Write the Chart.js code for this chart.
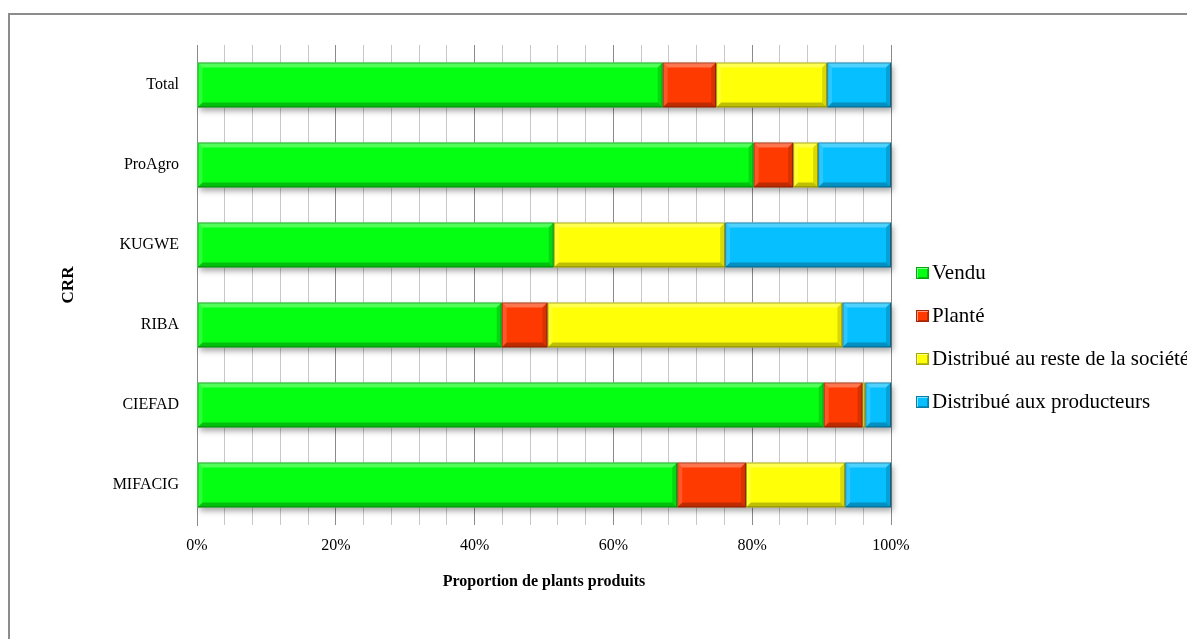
<!DOCTYPE html>
<html>
<head>
<meta charset="utf-8">
<script src="https://cdn.jsdelivr.net/npm/chart.js@4.4.1/dist/chart.umd.min.js"></script>
<style>
  body { margin: 0; width: 1187px; height: 639px; overflow: hidden; background: #fff; position: relative; font-family: "Liberation Serif", "Times New Roman", serif; }
  #frame { position: absolute; left: 8px; top: 13px; width: 1400px; height: 800px; border: 2px solid #8c8c8c; box-sizing: border-box; }
  #chart { position: absolute; left: 0; top: 0; }
  #legend { position: absolute; left: 916px; top: 261px; white-space: nowrap; }
  .item { height: 43px; display: flex; align-items: flex-start; font-size: 21px; line-height: 22px; color: #000; }
  .sw { width: 13px; height: 12px; margin: 6px 3px 0 0; box-sizing: border-box; border: 1px solid rgba(0,0,0,0.35); box-shadow: inset 1px 1px 0 rgba(255,255,255,0.5), inset -1px -1px 0 rgba(0,0,0,0.25); }
</style>
</head>
<body>
<div id="frame"></div>
<canvas id="chart" width="1187" height="639"></canvas>
<div id="legend"></div>
<script>
var categories = ['Total', 'ProAgro', 'KUGWE', 'RIBA', 'CIEFAD', 'MIFACIG'];
var vendu = [67.1, 80.2, 51.4, 43.9, 90.3, 69.2];
var plante = [7.7, 5.7, 0, 6.6, 5.6, 9.9];
var resteSociete = [16.0, 3.6, 24.7, 42.5, 0.4, 14.3];
var producteurs = [9.2, 10.5, 23.9, 7.0, 3.7, 6.6];
var xTickLabels = [0, 20, 40, 60, 80, 100];

var seriesNames = ['Vendu', 'Planté', 'Distribué au reste de la société', 'Distribué aux producteurs'];
var seriesColors = ['#05ff12', '#ff3a00', '#ffff08', '#05bfff'];
var serif = '"Liberation Serif", "Times New Roman", serif';

// legend built from the series
var legend = document.getElementById('legend');
seriesNames.forEach(function(name, i) {
    var row = document.createElement('div');
    row.className = 'item';
    var sw = document.createElement('span');
    sw.className = 'sw';
    sw.style.background = seriesColors[i];
    row.appendChild(sw);
    row.appendChild(document.createTextNode(name));
    legend.appendChild(row);
});

// soft shadow under each bar + bevel on every segment
var bevelPlugin = {
    id: 'bevel',
    beforeDatasetsDraw: function(chart) {
        var ctx = chart.ctx;
        var first = chart.getDatasetMeta(0).data;
        var last = chart.getDatasetMeta(chart.data.datasets.length - 1).data;
        ctx.save();
        ctx.shadowColor = 'rgba(0,0,0,0.35)';
        ctx.shadowBlur = 6;
        ctx.shadowOffsetX = 2;
        ctx.shadowOffsetY = 3;
        ctx.fillStyle = '#fff';
        first.forEach(function(el, i) {
            var a = el.getProps(['base', 'y', 'height'], true);
            var b = last[i].getProps(['x'], true);
            ctx.fillRect(a.base, a.y - a.height / 2, b.x - a.base, a.height);
        });
        ctx.restore();
    },
    afterDatasetsDraw: function(chart) {
        var ctx = chart.ctx;
        chart.data.datasets.forEach(function(ds, di) {
            chart.getDatasetMeta(di).data.forEach(function(el) {
                var p = el.getProps(['x', 'y', 'base', 'height'], true);
                var x1 = Math.min(p.base, p.x), x2 = Math.max(p.base, p.x);
                var y1 = p.y - p.height / 2, y2 = p.y + p.height / 2;
                var w = x2 - x1;
                if (w < 0.5) return;
                var bv = Math.min(5, w / 2);
                ctx.save();
                ctx.fillStyle = 'rgba(255,255,255,0.30)';
                ctx.beginPath();
                ctx.moveTo(x1, y1); ctx.lineTo(x2, y1); ctx.lineTo(x2 - bv, y1 + bv); ctx.lineTo(x1 + bv, y1 + bv);
                ctx.closePath(); ctx.fill();
                ctx.fillStyle = 'rgba(255,255,255,0.15)';
                ctx.beginPath();
                ctx.moveTo(x1, y1); ctx.lineTo(x1 + bv, y1 + bv); ctx.lineTo(x1 + bv, y2 - bv); ctx.lineTo(x1, y2);
                ctx.closePath(); ctx.fill();
                ctx.fillStyle = 'rgba(0,0,0,0.15)';
                ctx.beginPath();
                ctx.moveTo(x2, y1); ctx.lineTo(x2, y2); ctx.lineTo(x2 - bv, y2 - bv); ctx.lineTo(x2 - bv, y1 + bv);
                ctx.closePath(); ctx.fill();
                ctx.fillStyle = 'rgba(0,0,0,0.25)';
                ctx.beginPath();
                ctx.moveTo(x1, y2); ctx.lineTo(x2, y2); ctx.lineTo(x2 - bv, y2 - bv); ctx.lineTo(x1 + bv, y2 - bv);
                ctx.closePath(); ctx.fill();
                ctx.strokeStyle = 'rgba(0,0,0,0.35)';
                ctx.lineWidth = 1;
                ctx.strokeRect(x1 + 0.5, y1 + 0.5, w - 1, p.height - 1);
                ctx.restore();
            });
        });
    }
};

var ctx = document.getElementById('chart').getContext('2d');

var chart = new Chart(ctx, {
    type: 'bar',
    data: {
        labels: categories,
        datasets: [vendu, plante, resteSociete, producteurs].map(function(values, i) {
            return {
                label: seriesNames[i],
                data: values,
                backgroundColor: seriesColors[i],
                borderWidth: 0,
                barPercentage: 0.5625,
                categoryPercentage: 1
            };
        })
    },
    options: {
        indexAxis: 'y',
        responsive: false,
        devicePixelRatio: 1,
        animation: false,
        layout: {
            padding: { left: 54, right: 296, top: 45, bottom: 44 }
        },
        plugins: {
            legend: { display: false },
            tooltip: { enabled: false }
        },
        scales: {
            x: {
                stacked: true,
                min: 0,
                max: 100,
                afterFit: function(scale) { scale.height = 70; },
                ticks: {
                    stepSize: 4,
                    autoSkip: false,
                    maxRotation: 0,
                    padding: 11,
                    color: '#000',
                    font: { family: serif, size: 16 },
                    callback: function(v) {
                        return xTickLabels.indexOf(v) >= 0 ? v + '%' : '';
                    }
                },
                grid: {
                    drawTicks: false,
                    lineWidth: 1,
                    color: function(c) {
                        return c.tick && c.tick.value % 20 === 0 ? '#8a8a8a' : '#c8c8c8';
                    }
                },
                border: { display: false },
                title: {
                    display: true,
                    text: 'Proportion de plants produits',
                    color: '#000',
                    font: { family: serif, size: 16, weight: 'bold' }
                }
            },
            y: {
                stacked: true,
                afterFit: function(scale) { scale.width = 143; },
                ticks: {
                    padding: 18,
                    color: '#000',
                    font: { family: serif, size: 16 }
                },
                grid: { display: false, drawTicks: false },
                border: { display: true, color: '#8a8a8a', width: 1 },
                title: {
                    display: true,
                    text: 'CRR',
                    color: '#000',
                    font: { family: serif, size: 17, weight: 'bold' }
                }
            }
        }
    },
    plugins: [bevelPlugin]
});
</script>
</body>
</html>
